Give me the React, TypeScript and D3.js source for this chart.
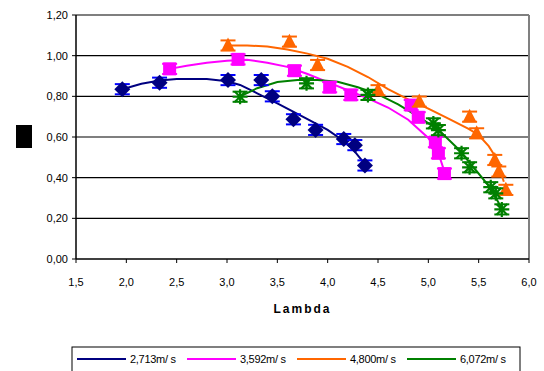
import React from "react";
import * as d3 from "d3";

// measured points (lambda, cp)
const blueX = [1.96, 2.33, 3.01, 3.34, 3.45, 3.66, 3.88, 4.16, 4.27, 4.37];
const blueY = [0.835, 0.867, 0.88, 0.88, 0.8, 0.687, 0.635, 0.59, 0.56, 0.46];
const pinkX = [2.43, 3.11, 3.67, 4.02, 4.23, 4.83, 4.9, 5.07, 5.1, 5.16];
const pinkY = [0.935, 0.982, 0.926, 0.845, 0.807, 0.757, 0.697, 0.575, 0.52, 0.42];
const orangeX = [3.01, 3.62, 3.9, 4.5, 4.91, 5.41, 5.48, 5.66, 5.7, 5.77];
const orangeY = [1.05, 1.069, 0.954, 0.83, 0.774, 0.7, 0.618, 0.487, 0.43, 0.34];
const greenX = [3.13, 3.79, 4.4, 5.05, 5.1, 5.33, 5.41, 5.62, 5.67, 5.73];
const greenY = [0.798, 0.864, 0.807, 0.667, 0.634, 0.52, 0.451, 0.353, 0.323, 0.244];

// fitted curves
const blueFitX = [1.96, 2.15, 2.33, 2.5, 2.8, 3.0, 3.13, 3.3, 3.5, 3.79, 4.0, 4.12, 4.25, 4.38];
const blueFitY = [0.835, 0.862, 0.878, 0.885, 0.885, 0.874, 0.856, 0.815, 0.765, 0.69, 0.635, 0.594, 0.54, 0.46];
const pinkFitX = [2.43, 2.6, 2.8, 3.0, 3.2, 3.4, 3.6, 3.8, 4.0, 4.2, 4.4, 4.6, 4.8, 5.0, 5.1, 5.16];
const pinkFitY = [0.935, 0.95, 0.965, 0.975, 0.98, 0.965, 0.945, 0.91, 0.87, 0.83, 0.79, 0.745, 0.685, 0.595, 0.52, 0.43];
const orangeFitX = [3.02, 3.2, 3.4, 3.6, 3.8, 4.0, 4.2, 4.4, 4.6, 4.8, 5.0, 5.2, 5.4, 5.5, 5.6, 5.67, 5.75];
const orangeFitY = [1.05, 1.05, 1.045, 1.03, 1.01, 0.985, 0.945, 0.895, 0.835, 0.785, 0.74, 0.69, 0.64, 0.61, 0.555, 0.5, 0.38];
const greenFitX = [3.13, 3.3, 3.5, 3.7, 3.9, 4.1, 4.3, 4.5, 4.7, 4.9, 5.1, 5.3, 5.45, 5.6, 5.73];
const greenFitY = [0.8, 0.84, 0.87, 0.88, 0.88, 0.872, 0.845, 0.81, 0.76, 0.7, 0.635, 0.54, 0.45, 0.36, 0.25];

const errY = 0.025;

const xTicks = [1.5, 2.0, 2.5, 3.0, 3.5, 4.0, 4.5, 5.0, 5.5, 6.0];
const yTicks = [0, 0.2, 0.4, 0.6, 0.8, 1.0, 1.2];
const legendLabels = ["2,713m/ s", "3,592m/ s", "4,800m/ s", "6,072m/ s"];
const colors = ["#000080", "#FF00FF", "#FF6600", "#008000"];
const barColors = ["#0000FF", "#FF00FF", "#FF6600", "#008000"];

const series = [
  { px: blueX, py: blueY, fx: blueFitX, fy: blueFitY, shape: "diamond" },
  { px: pinkX, py: pinkY, fx: pinkFitX, fy: pinkFitY, shape: "square" },
  { px: orangeX, py: orangeY, fx: orangeFitX, fy: orangeFitY, shape: "triangle" },
  { px: greenX, py: greenY, fx: greenFitX, fy: greenFitY, shape: "star" },
];

const fmt = (v: number, d: number) => v.toFixed(d).replace(".", ",");

const Marker = ({ shape, x, y, color }: any) => {
  if (shape === "diamond") {
    return <path d={`M${x},${y - 8}L${x + 8},${y}L${x},${y + 8}L${x - 8},${y}Z`} fill={color} />;
  }
  if (shape === "square") {
    return <rect x={x - 6.5} y={y - 6.5} width={13} height={13} fill={color} />;
  }
  if (shape === "triangle") {
    return <path d={`M${x},${y - 8}L${x + 7},${y + 5.5}L${x - 7},${y + 5.5}Z`} fill={color} />;
  }
  const r = 7.5;
  const lines = [0, 45, 90, 135].map((a) => {
    const rad = (a * Math.PI) / 180;
    return `M${x - r * Math.cos(rad)},${y - r * Math.sin(rad)}L${x + r * Math.cos(rad)},${y + r * Math.sin(rad)}`;
  });
  return <path d={lines.join("")} stroke={color} strokeWidth={2.2} fill="none" />;
};

export default function App() {
  const x = d3.scaleLinear().domain([1.5, 6.0]).range([76, 529]);
  const y = d3.scaleLinear().domain([0, 1.2]).range([259, 15]);
  const line = d3
    .line<number>()
    .x((d: any) => x(d[0]))
    .y((d: any) => y(d[1]));
  const font = "'Liberation Sans', Arial, sans-serif";

  return (
    <svg
      width={544}
      height={371}
      style={{ position: "absolute", left: 0, top: 0, background: "#fff" }}
      fontFamily={font}
    >
      <rect x={0} y={0} width={544} height={371} fill="#fff" />
      {/* grid */}
      {yTicks.map((t) =>
        t > 0 ? (
          <line key={t} x1={x(1.5)} x2={x(6.0)} y1={y(t)} y2={y(t)} stroke="#000" strokeWidth={1.1} />
        ) : null
      )}
      <line x1={x(6.0)} x2={x(6.0)} y1={y(1.2)} y2={y(0)} stroke="#808080" strokeWidth={2} />
      {/* axes */}
      <line x1={x(1.5)} x2={x(1.5)} y1={y(1.2)} y2={y(0)} stroke="#000" strokeWidth={1.5} />
      <line x1={x(1.5)} x2={x(6.0)} y1={y(0)} y2={y(0)} stroke="#000" strokeWidth={1.5} />
      {yTicks.map((t) => (
        <g key={t}>
          <line x1={x(1.5) - 4} x2={x(1.5)} y1={y(t)} y2={y(t)} stroke="#000" />
          <text x={x(1.5) - 8} y={y(t) + 4} textAnchor="end" fontSize={11}>
            {fmt(t, 2)}
          </text>
        </g>
      ))}
      {xTicks.map((t) => (
        <g key={t}>
          <line x1={x(t)} x2={x(t)} y1={y(0)} y2={y(0) + 4} stroke="#000" />
          <text x={x(t)} y={y(0) + 27} textAnchor="middle" fontSize={11}>
            {fmt(t, 1)}
          </text>
        </g>
      ))}
      <text x={x(3.75)} y={313} textAnchor="middle" fontSize={12} fontWeight="bold" letterSpacing={2}>
        Lambda
      </text>
      <rect x={16} y={125} width={16} height={23} fill="#000" />
      {/* fit curves */}
      {series.map((s, i) => (
        <path
          key={i}
          d={line(s.fx.map((v, j) => [v, s.fy[j]]) as any) || ""}
          fill="none"
          stroke={colors[i]}
          strokeWidth={2}
        />
      ))}
      {/* points with error bars */}
      {series.map((s, i) => (
        <g key={i}>
          {s.px.map((v, j) => {
            const cx = x(v);
            const cy = y(s.py[j]);
            const top = y(s.py[j] + errY);
            const bot = y(s.py[j] - errY);
            return (
              <g key={j}>
                <line x1={cx} x2={cx} y1={top} y2={bot} stroke={barColors[i]} strokeWidth={2} />
                <line x1={cx - 7.5} x2={cx + 7.5} y1={top} y2={top} stroke={barColors[i]} strokeWidth={2} />
                <line x1={cx - 7.5} x2={cx + 7.5} y1={bot} y2={bot} stroke={barColors[i]} strokeWidth={2} />
                <Marker shape={s.shape} x={cx} y={cy} color={colors[i]} />
              </g>
            );
          })}
        </g>
      ))}
      {/* legend */}
      <rect x={72} y={347} width={448} height={30} fill="#fff" stroke="#000" strokeWidth={1} />
      {legendLabels.map((l, i) => {
        const lx = 77 + i * 110;
        return (
          <g key={l}>
            <line x1={lx} x2={lx + 49} y1={359} y2={359} stroke={colors[i]} strokeWidth={2} />
            <text x={lx + 53} y={363} fontSize={11} letterSpacing={-0.3}>
              {l}
            </text>
          </g>
        );
      })}
    </svg>
  );
}
